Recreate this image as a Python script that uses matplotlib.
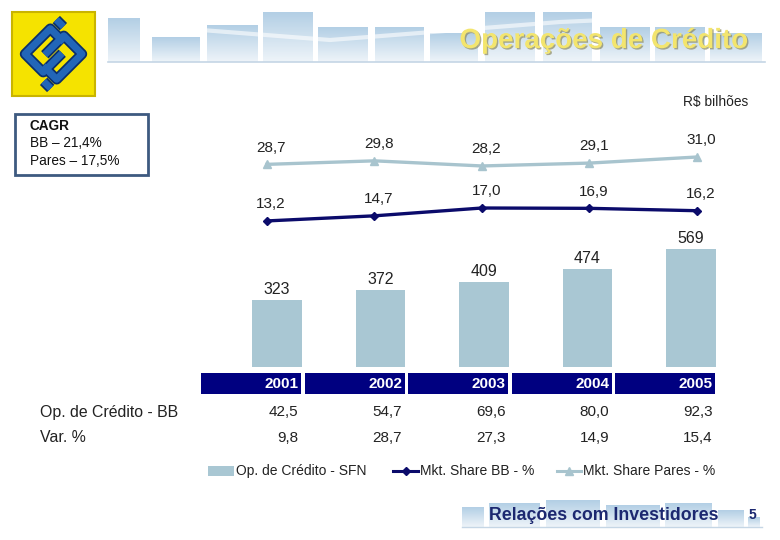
import matplotlib
matplotlib.use('Agg')
import matplotlib.pyplot as plt
import matplotlib.patheffects as pe
from matplotlib.patches import Rectangle
from matplotlib.colors import LinearSegmentedColormap
import numpy as np

plt.rcParams['font.family'] = ['Liberation Sans', 'DejaVu Sans']

# dados
anos = ['2001', '2002', '2003', '2004', '2005']
op_credito_sfn = [323, 372, 409, 474, 569]          # R$ bilhões
mkt_share_bb = [13.2, 14.7, 17.0, 16.9, 16.2]       # %
mkt_share_pares = [28.7, 29.8, 28.2, 29.1, 31.0]    # %
op_credito_bb = [42.5, 54.7, 69.6, 80.0, 92.3]
var_pct = [9.8, 28.7, 27.3, 14.9, 15.4]

COR_BARRA = '#a9c7d3'
COR_PARES = '#a8c4ce'
COR_BB = '#0b0b6b'
COR_CELULA = '#000080'
COR_TEXTO = '#222222'

W, H = 780, 540
fig = plt.figure(figsize=(W / 100, H / 100), dpi=100)


def px_axes(l, t, w, h):
    ax = fig.add_axes([l / W, 1 - (t + h) / H, w / W, h / H])
    ax.set_facecolor('none')
    return ax


def virgula(v):
    return f'{v:.1f}'.replace('.', ',')


# fundo / decoracao (coordenadas em pixels)
bg = fig.add_axes([0, 0, 1, 1])
bg.set_xlim(0, W)
bg.set_ylim(H, 0)
bg.axis('off')

grad = np.linspace(0, 1, 60).reshape(-1, 1)
cm_banner = LinearSegmentedColormap.from_list('banner', ['#b3cfe5', '#eef4f9'])

colunas_topo = [(108, 140, 18), (152, 200, 37), (207, 258, 25), (263, 313, 12),
                (318, 368, 27), (375, 424, 27), (430, 478, 33), (485, 535, 12),
                (543, 592, 12), (600, 650, 27), (655, 705, 27), (710, 762, 33)]
for x0, x1, topo in colunas_topo:
    bg.imshow(grad, extent=(x0, x1, 62, topo), aspect='auto', cmap=cm_banner, zorder=1)
bg.plot([108, 765], [62, 62], color='#c5d6e5', lw=1.2, zorder=2)
bg.plot([150, 330, 560, 740], [26, 40, 22, 14], color='white', lw=3, alpha=0.6, zorder=2)

colunas_rodape = [(462, 484, 507), (489, 540, 503), (546, 600, 500), (606, 660, 505),
                  (665, 712, 503), (718, 744, 510), (748, 760, 517)]
for x0, x1, topo in colunas_rodape:
    bg.imshow(grad, extent=(x0, x1, 527, topo), aspect='auto', cmap=cm_banner, zorder=1)
bg.plot([462, 762], [527, 527], color='#c5d6e5', lw=1.0, zorder=2)

# logo BB
bg.add_patch(Rectangle((12, 12), 83, 84, facecolor='#f5e300', edgecolor='#c9b400', lw=1.5, zorder=3))
cx, cy, s = 53.5, 54, 56
ang = np.deg2rad(45)
rot = np.array([[np.cos(ang), -np.sin(ang)], [np.sin(ang), np.cos(ang)]])
tracos = [
    [(0.28, 0.02), (0.28, 0.36), (-0.36, 0.36), (-0.36, -0.1), (0.12, -0.1)],
    [(-0.28, -0.02), (-0.28, -0.36), (0.36, -0.36), (0.36, 0.1), (-0.12, 0.1)],
    [(0.47, 0.22), (0.47, 0.4)],
    [(-0.47, -0.22), (-0.47, -0.4)],
]
for tr in tracos:
    p = np.array(tr) @ rot.T * s * np.array([1, -1]) + np.array([cx, cy])
    bg.plot(p[:, 0], p[:, 1], color='#0a2f6b', lw=7.5, solid_capstyle='butt', zorder=4)
    bg.plot(p[:, 0], p[:, 1], color='#2266b8', lw=5.0, solid_capstyle='butt', zorder=5)

# titulo
bg.text(748, 41, 'Operações de Crédito', ha='right', va='center', fontsize=20,
        fontweight='bold', color='#f3e56e', zorder=6,
        path_effects=[pe.withSimplePatchShadow(offset=(1, -1), shadow_rgbFace='#8c8a60', alpha=0.7)])
bg.text(748, 102, 'R$ bilhões', ha='right', va='center', fontsize=9.9, color=COR_TEXTO)

# caixa CAGR
bg.add_patch(Rectangle((15, 114), 133, 61, facecolor='white', edgecolor='#3d5a80', lw=2, zorder=3))
bg.text(30, 126, 'CAGR', fontsize=9.8, fontweight='bold', va='center', color='#111111', zorder=4)
bg.text(30, 143, 'BB – 21,4%', fontsize=9.8, va='center', color='#111111', zorder=4)
bg.text(30, 161, 'Pares – 17,5%', fontsize=9.8, va='center', color='#111111', zorder=4)

# rotulos das linhas da tabela
bg.text(40, 412, 'Op. de Crédito - BB', fontsize=11.4, va='center', color=COR_TEXTO)
bg.text(40, 438, 'Var. %', fontsize=11.4, va='center', color=COR_TEXTO)

# legenda
bg.add_patch(Rectangle((208, 466), 26, 10, facecolor=COR_BARRA, edgecolor='none'))
bg.text(236, 471, 'Op. de Crédito - SFN', fontsize=10, va='center', color=COR_TEXTO)
bg.plot([393, 418], [471, 471], color=COR_BB, lw=2.2)
bg.plot([405.5], [471], marker='D', ms=4.5, color=COR_BB)
bg.text(420, 471, 'Mkt. Share BB - %', fontsize=10, va='center', color=COR_TEXTO)
bg.plot([557, 581], [471, 471], color=COR_PARES, lw=2.2)
bg.plot([569], [471], marker='^', ms=6, color=COR_PARES)
bg.text(583, 471, 'Mkt. Share Pares - %', fontsize=10, va='center', color=COR_TEXTO)

# rodape
bg.text(489, 515, 'Relações com Investidores', fontsize=12.8, fontweight='bold',
        va='center', color='#1c2870', zorder=6)
bg.text(752, 515, '5', fontsize=10, fontweight='bold', va='center', ha='center',
        color='#1c2870', zorder=6)

bg.set_xlim(0, W)
bg.set_ylim(H, 0)

x = np.arange(len(anos))

# barras - Op. de Crédito SFN
ax_bar = px_axes(225.25, 230, 517.5, 137)
ax_bar.bar(x, op_credito_sfn, width=0.483, color=COR_BARRA)
for i, v in enumerate(op_credito_sfn):
    ax_bar.annotate(str(v), (i, v), xytext=(0, 2), textcoords='offset points',
                    ha='center', va='bottom', fontsize=11.5, color=COR_TEXTO)
ax_bar.set_xlim(-0.5, 4.5)
ax_bar.set_ylim(0, 137 / 0.2074)
ax_bar.axis('off')

# linhas - market share
ax_pares = px_axes(213.25, 130, 537.5, 110)
ax_pares.plot(x, mkt_share_pares, color=COR_PARES, lw=2.4, marker='^', ms=6)
for i, v in enumerate(mkt_share_pares):
    ax_pares.annotate(virgula(v), (i, v), xytext=(3, 7), textcoords='offset points',
                      ha='center', va='bottom', fontsize=11, color=COR_TEXTO)
ax_pares.set_xlim(-0.5, 4.5)
ax_pares.set_ylim(31.0 - (240 - 157) / 3.2, 31.0 + (157 - 130) / 3.2)
ax_pares.axis('off')

ax_bb = px_axes(213.25, 130, 537.5, 110)
ax_bb.plot(x, mkt_share_bb, color=COR_BB, lw=2.4, marker='D', ms=4.5)
for i, v in enumerate(mkt_share_bb):
    ax_bb.annotate(virgula(v), (i, v), xytext=(3, 7), textcoords='offset points',
                   ha='center', va='bottom', fontsize=11, color=COR_TEXTO)
ax_bb.set_xlim(-0.5, 4.5)
ax_bb.set_ylim(17.0 - (240 - 208) / 3.4, 17.0 + (208 - 130) / 3.4)
ax_bb.axis('off')

# tabela
ax_tab = px_axes(225.25, 367, 517.5, 90)
ax_tab.set_xlim(-0.5, 4.5)
ax_tab.set_ylim(457, 367)
ax_tab.axis('off')
for i, ano in enumerate(anos):
    ax_tab.add_patch(Rectangle((i + 0.232 - 0.966, 373), 0.966, 21,
                               facecolor=COR_CELULA, edgecolor='none', clip_on=False))
    ax_tab.text(i + 0.21, 384, ano, ha='right', va='center', fontsize=11,
                fontweight='bold', color='white')
    ax_tab.text(i + 0.21, 412, virgula(op_credito_bb[i]), ha='right', va='center',
                fontsize=11, color=COR_TEXTO)
    ax_tab.text(i + 0.21, 438, virgula(var_pct[i]), ha='right', va='center',
                fontsize=11, color=COR_TEXTO)

plt.savefig('out.png', dpi=100)
